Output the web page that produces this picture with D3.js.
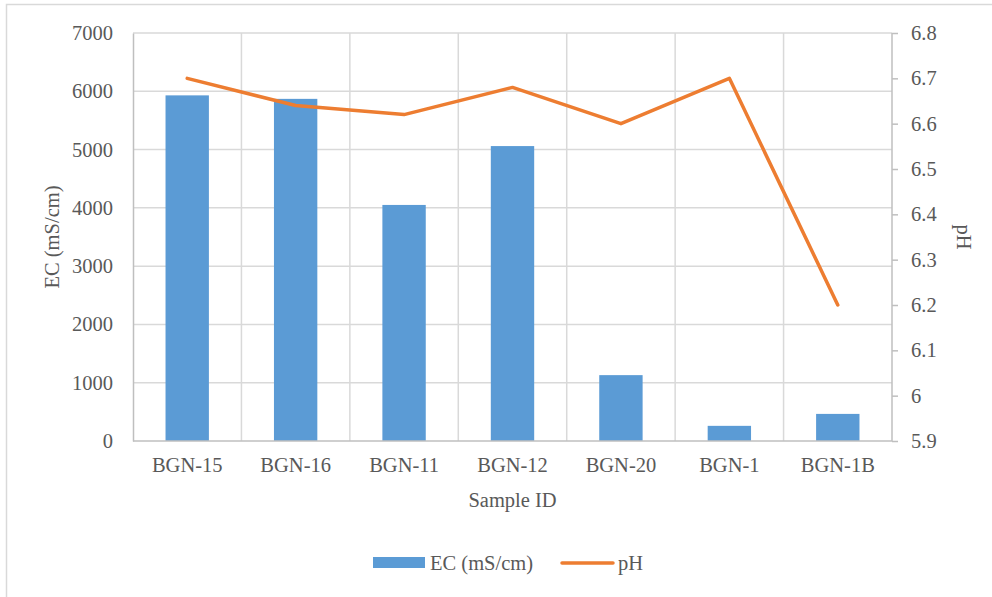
<!DOCTYPE html>
<html>
<head>
<meta charset="utf-8">
<script src="https://cdn.jsdelivr.net/npm/d3@7"></script>
<style>
  html, body { margin: 0; padding: 0; background: #fff; }
  svg { display: block; }
</style>
</head>
<body>
<svg id="chart" width="992" height="597"></svg>
<script>
// Sample data
const samples = ["BGN-15", "BGN-16", "BGN-11", "BGN-12", "BGN-20", "BGN-1", "BGN-1B"];
const ecValues = [5930, 5870, 4050, 5060, 1130, 260, 465];
const phValues = [6.70, 6.64, 6.62, 6.68, 6.60, 6.70, 6.20];
const ecTicks = [0, 1000, 2000, 3000, 4000, 5000, 6000, 7000];
const phTicks = [5.9, 6.0, 6.1, 6.2, 6.3, 6.4, 6.5, 6.6, 6.7, 6.8];

const svg = d3.select("#chart");
const W = 992, H = 597;
const plot = { left: 133, right: 892, top: 33, bottom: 441 };
const FONT = "Liberation Serif";
const fontSize = "20.5px";
const textColor = "#595959";
const gridColor = "#d9d9d9";
const axisColor = "#bfbfbf";
const blue = "#5B9BD5";
const orange = "#ED7D31";

function styleText(sel) {
  return sel.style("font-family", FONT).style("font-size", fontSize).style("fill", textColor);
}

// Outer chart frame
svg.append("rect")
  .attr("x", 6.5).attr("y", 4.5)
  .attr("width", W).attr("height", H)
  .attr("fill", "#fff")
  .attr("stroke", "#d9d9d9").attr("stroke-width", 1.5);

const x = d3.scaleBand().domain(samples).range([plot.left, plot.right]).paddingInner(0).paddingOuter(0);
const yEC = d3.scaleLinear().domain([0, 7000]).range([plot.bottom, plot.top]);
const yPH = d3.scaleLinear().domain([5.9, 6.8]).range([plot.bottom, plot.top]);

// Horizontal gridlines
svg.append("g").selectAll("line").data(ecTicks.slice(1)).join("line")
  .attr("x1", plot.left).attr("x2", plot.right)
  .attr("y1", d => yEC(d)).attr("y2", d => yEC(d))
  .attr("stroke", gridColor).attr("stroke-width", 1.5);

// Vertical gridlines at category boundaries
const bounds = samples.map(s => x(s)).concat([x(samples[samples.length - 1]) + x.bandwidth()]);
svg.append("g").selectAll("line").data(bounds.slice(1, -1)).join("line")
  .attr("x1", d => d).attr("x2", d => d)
  .attr("y1", plot.top).attr("y2", plot.bottom)
  .attr("stroke", gridColor).attr("stroke-width", 1.5);

// EC bars
const barW = x.bandwidth() * 0.4;
svg.append("g").selectAll("rect").data(samples).join("rect")
  .attr("x", d => x(d) + (x.bandwidth() - barW) / 2)
  .attr("width", barW)
  .attr("y", (d, i) => yEC(ecValues[i]))
  .attr("height", (d, i) => plot.bottom - yEC(ecValues[i]))
  .attr("fill", blue);

// Left axis
const leftAxis = svg.append("g")
  .attr("transform", `translate(${plot.left},0)`)
  .call(d3.axisLeft(yEC).tickValues(ecTicks).tickSize(0).tickPadding(20).tickFormat(d3.format("d")));
leftAxis.attr("font-family", FONT);
leftAxis.select(".domain").attr("stroke", axisColor).attr("stroke-width", 1.5);
styleText(leftAxis.selectAll("text"));

// Right axis
const rightAxis = svg.append("g")
  .attr("transform", `translate(${plot.right},0)`)
  .call(d3.axisRight(yPH).tickValues(phTicks).tickSize(6).tickPadding(13).tickFormat(d => d3.format("~g")(+d.toFixed(1))));
rightAxis.attr("font-family", FONT);
rightAxis.select(".domain").attr("stroke", axisColor).attr("stroke-width", 1.5).attr("d", `M0,${plot.top}V${plot.bottom}`);
rightAxis.selectAll(".tick line").attr("stroke", axisColor).attr("stroke-width", 1.5);
styleText(rightAxis.selectAll("text"));

// Bottom axis
const bottomAxis = svg.append("g")
  .attr("transform", `translate(0,${plot.bottom})`)
  .call(d3.axisBottom(x).tickSize(0).tickPadding(16));
bottomAxis.attr("font-family", FONT);
bottomAxis.select(".domain").attr("stroke", axisColor).attr("stroke-width", 1.5).attr("d", `M${plot.left},0H${plot.right}`);
styleText(bottomAxis.selectAll("text"));

// pH line
const line = d3.line()
  .x((d, i) => x(samples[i]) + x.bandwidth() / 2)
  .y(d => yPH(d));
svg.append("path")
  .datum(phValues)
  .attr("d", line)
  .attr("fill", "none")
  .attr("stroke", orange)
  .attr("stroke-width", 3.5)
  .attr("stroke-linejoin", "round")
  .attr("stroke-linecap", "round");

// Axis titles
styleText(svg.append("text")
  .attr("transform", `translate(59,${(plot.top + plot.bottom) / 2}) rotate(-90)`)
  .attr("text-anchor", "middle"))
  .text("EC (mS/cm)");

styleText(svg.append("text")
  .attr("transform", `translate(957,${(plot.top + plot.bottom) / 2}) rotate(90)`)
  .attr("text-anchor", "middle"))
  .text("pH");

styleText(svg.append("text")
  .attr("x", (plot.left + plot.right) / 2).attr("y", 507)
  .attr("text-anchor", "middle"))
  .text("Sample ID");

// Legend
const legend = svg.append("g");
legend.append("rect").attr("x", 373).attr("y", 557).attr("width", 52).attr("height", 11).attr("fill", blue);
styleText(legend.append("text").attr("x", 430).attr("y", 570)).text("EC (mS/cm)");
legend.append("line").attr("x1", 562).attr("x2", 613).attr("y1", 563).attr("y2", 563)
  .attr("stroke", orange).attr("stroke-width", 3.5).attr("stroke-linecap", "round");
styleText(legend.append("text").attr("x", 618).attr("y", 570)).text("pH");
</script>
</body>
</html>
